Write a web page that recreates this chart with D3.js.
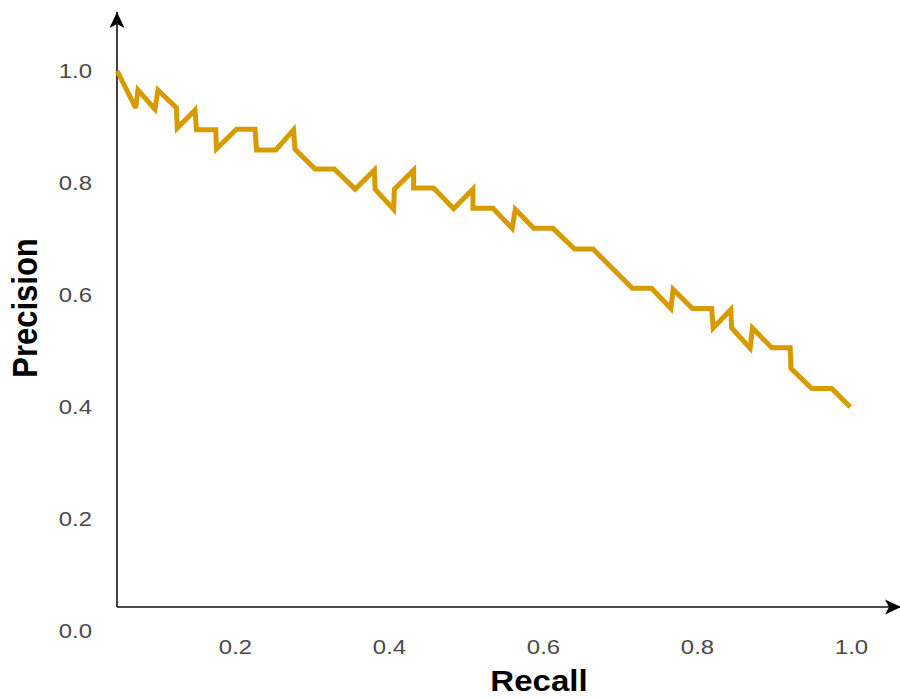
<!DOCTYPE html>
<html>
<head>
<meta charset="utf-8">
<script src="https://cdn.jsdelivr.net/npm/d3@7"></script>
<style>
  body { margin: 0; background: #fff; }
  svg { display: block; }
</style>
</head>
<body>
<div id="chart"></div>
<script>
// values
const recall = [0.047, 0.071, 0.074, 0.096, 0.100, 0.124, 0.125, 0.148, 0.150, 0.175,
    0.176, 0.202, 0.226, 0.228, 0.253, 0.276, 0.278, 0.304, 0.329, 0.356,
    0.381, 0.382, 0.406, 0.407, 0.432, 0.432, 0.458, 0.484, 0.509, 0.509,
    0.535, 0.560, 0.564, 0.588, 0.613, 0.641, 0.665, 0.716, 0.741, 0.766,
    0.769, 0.794, 0.819, 0.821, 0.844, 0.845, 0.869, 0.872, 0.897, 0.921,
    0.922, 0.949, 0.975, 0.999];
const precision = [1.000, 0.934, 0.966, 0.932, 0.966, 0.934, 0.898, 0.930, 0.895, 0.895,
    0.861, 0.896, 0.896, 0.859, 0.859, 0.895, 0.860, 0.825, 0.825, 0.789,
    0.823, 0.789, 0.753, 0.789, 0.823, 0.791, 0.791, 0.754, 0.789, 0.755,
    0.755, 0.719, 0.753, 0.719, 0.719, 0.682, 0.682, 0.612, 0.612, 0.576,
    0.610, 0.576, 0.576, 0.541, 0.574, 0.541, 0.505, 0.541, 0.506, 0.506,
    0.469, 0.433, 0.433, 0.400];
const xTicks = [0.2, 0.4, 0.6, 0.8, 1.0];
const yTicks = [0.0, 0.2, 0.4, 0.6, 0.8, 1.0];

const width = 900,
    height = 699;
// where the two arrow axes meet
const originX = 117,
    originY = 607;
const stretch = 1.14; // the text in the picture is a bit wide

const svg = d3.select("#chart")
    .append("svg")
    .attr("width", width)
    .attr("height", height);

const x = d3.scaleLinear().domain([0, 1]).range([81, 851]);
const y = d3.scaleLinear().domain([0, 1]).range([631, 71]);

// arrow head
svg.append("defs").append("marker")
    .attr("id", "arrow")
    .attr("viewBox", "-16 -8 16 16")
    .attr("refX", 0)
    .attr("refY", 0)
    .attr("markerWidth", 16)
    .attr("markerHeight", 16)
    .attr("markerUnits", "userSpaceOnUse")
    .attr("orient", "auto")
    .append("path")
    .attr("d", "M0,0 L-16,-7.5 L-12,0 L-16,7.5 Z")
    .attr("fill", "#000");

// axis lines
svg.append("line")
    .attr("x1", originX).attr("y1", originY)
    .attr("x2", originX).attr("y2", 12)
    .attr("stroke", "#111")
    .attr("stroke-width", 1.6)
    .attr("marker-end", "url(#arrow)");

svg.append("line")
    .attr("x1", originX).attr("y1", originY)
    .attr("x2", 901).attr("y2", originY)
    .attr("stroke", "#111")
    .attr("stroke-width", 1.6)
    .attr("marker-end", "url(#arrow)");

// tick labels only
const xAxis = svg.append("g")
    .attr("transform", `translate(0, ${originY})`)
    .call(d3.axisBottom(x).tickValues(xTicks).tickFormat(d3.format(".1f")).tickSize(0).tickPadding(32));

const yAxis = svg.append("g")
    .attr("transform", `translate(${originX}, 0)`)
    .call(d3.axisLeft(y).tickValues(yTicks).tickFormat(d3.format(".1f")).tickSize(0));

[xAxis, yAxis].forEach(g => {
    g.select(".domain").remove();
    g.selectAll("text")
        .style("font-family", "'Liberation Sans', Arial, sans-serif")
        .style("font-size", "21px")
        .attr("fill", "#4a4a4a");
});
xAxis.selectAll("text").attr("transform", `scale(${stretch},1)`);
yAxis.selectAll("text")
    .attr("x", 0)
    .attr("transform", `translate(-25,0) scale(${stretch},1)`);

// precision / recall curve
const line = d3.line()
    .x((d, i) => x(recall[i]))
    .y(d => y(d));

svg.append("path")
    .datum(precision)
    .attr("d", line)
    .attr("fill", "none")
    .attr("stroke", "#d79b00")
    .attr("stroke-width", 5)
    .attr("stroke-linejoin", "miter")
    .attr("stroke-miterlimit", 3);

// axis titles
svg.append("text")
    .attr("transform", `translate(539, 691) scale(${stretch},1)`)
    .attr("text-anchor", "middle")
    .style("font-family", "'Liberation Sans', Arial, sans-serif")
    .style("font-weight", "bold")
    .style("font-size", "29px")
    .attr("fill", "#000")
    .text("Recall");

svg.append("text")
    .attr("transform", `translate(37, 308) scale(${stretch},1) rotate(-90)`)
    .attr("text-anchor", "middle")
    .style("font-family", "'Liberation Sans', Arial, sans-serif")
    .style("font-weight", "bold")
    .style("font-size", "31px")
    .attr("fill", "#000")
    .text("Precision");
</script>
</body>
</html>
